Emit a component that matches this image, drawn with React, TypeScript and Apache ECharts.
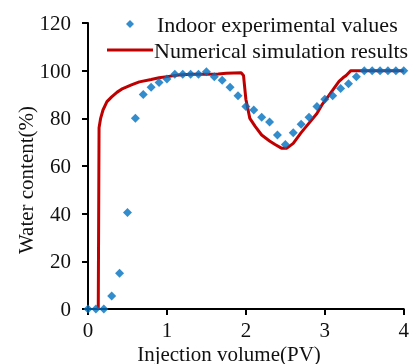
import React, { useEffect, useRef } from "react";
import * as echarts from "echarts";

const expX = [0, 0.1, 0.2, 0.3, 0.4, 0.5, 0.6, 0.7, 0.8, 0.9, 1.0, 1.1, 1.2, 1.3, 1.4, 1.5, 1.6, 1.7, 1.8, 1.9, 2.0, 2.1, 2.2, 2.3, 2.4, 2.5, 2.6, 2.7, 2.8, 2.9, 3.0, 3.1, 3.2, 3.3, 3.4, 3.5, 3.6, 3.7, 3.8, 3.9, 4.0];
const expY = [0, 0, 0, 5.5, 15, 40.5, 80, 90, 93, 95, 96.5, 98.5, 98.5, 98.5, 98.5, 99.5, 97.5, 96, 93, 89.5, 85, 83.5, 80.5, 78.5, 73, 69, 74, 77.5, 80.5, 85, 88, 89.5, 92.5, 94.5, 97.5, 100, 100, 100, 100, 100, 100];

const simX = [0.13, 0.14, 0.16, 0.19, 0.24, 0.3, 0.37, 0.44, 0.55, 0.65, 0.8, 0.9, 1.0, 1.15, 1.3, 1.5, 1.65, 1.75, 1.94, 1.97, 2.0, 2.05, 2.12, 2.2, 2.3, 2.37, 2.45, 2.52, 2.6, 2.7, 2.8, 2.9, 2.97, 3.05, 3.1, 3.18, 3.23, 3.27, 3.33, 4.0];
const simY = [0, 76, 80, 83.5, 87, 89, 91, 92.5, 94, 95.3, 96.3, 97, 97.5, 98.2, 98.5, 98.5, 98.6, 98.9, 99.1, 98, 88, 80, 76.5, 73, 70.5, 69, 67.5, 67.5, 69.5, 74, 78, 82, 86, 89.5, 91.8, 95.5, 97, 98, 100, 100];

const xTicks = [0, 1, 2, 3, 4];
const yTicks = [0, 20, 40, 60, 80, 100, 120];

const expName = "Indoor experimental values";
const simName = "Numerical simulation results";
const xName = "Injection volume(PV)";
const yName = "Water content(%)";

const FONT = "'Liberation Serif', 'Times New Roman', serif";

export default function App() {
  const ref = useRef<HTMLDivElement>(null);
  useEffect(() => {
    if (!ref.current) return;
    const chart = echarts.init(ref.current, undefined, { renderer: "svg" });
    const axisCommon = {
      type: "value" as const,
      axisLine: { show: true, lineStyle: { color: "#000", width: 2 } },
      axisTick: { show: true, inside: false, length: 6, lineStyle: { color: "#000", width: 2 } },
      splitLine: { show: false },
    };
    chart.setOption({
      animation: false,
      textStyle: { fontFamily: FONT },
      grid: { left: 88, right: 3, top: 23, bottom: 55 },
      legend: [
        {
          data: [expName],
          left: 126,
          top: 13,
          padding: 0,
          itemWidth: 8,
          itemHeight: 8,
          itemGap: 0,
          textStyle: { fontFamily: FONT, fontSize: 22, color: "#111", padding: [0, 0, 0, 18] },
        },
        {
          data: [{ name: simName, icon: "rect" }],
          left: 107,
          top: 39,
          padding: 0,
          itemWidth: 46,
          itemHeight: 3,
          itemGap: 0,
          textStyle: { fontFamily: FONT, fontSize: 22, color: "#111", padding: [0, 0, 0, -4] },
        },
      ],
      xAxis: {
        ...axisCommon,
        min: xTicks[0],
        max: xTicks[xTicks.length - 1],
        interval: 1,
        axisLabel: { fontFamily: FONT, fontSize: 21, color: "#111", margin: 10 },
      },
      yAxis: {
        ...axisCommon,
        min: yTicks[0],
        max: yTicks[yTicks.length - 1],
        interval: 20,
        axisLabel: { fontFamily: FONT, fontSize: 21, color: "#111", margin: 17 },
      },
      graphic: [
        {
          type: "text",
          x: 229,
          y: 353.5,
          style: { text: xName, font: `21px ${FONT}`, fill: "#111", textAlign: "center", textVerticalAlign: "middle" },
        },
        {
          type: "text",
          x: 26,
          y: 180,
          rotation: Math.PI / 2,
          style: { text: yName, font: `21px ${FONT}`, fill: "#111", textAlign: "center", textVerticalAlign: "middle" },
        },
      ],
      series: [
        {
          name: simName,
          type: "line",
          data: simX.map((x, i) => [x, simY[i]]),
          showSymbol: false,
          symbol: "none",
          lineStyle: { color: "#C00000", width: 3 },
          itemStyle: { color: "#C00000" },
          z: 2,
        },
        {
          name: expName,
          type: "scatter",
          data: expX.map((x, i) => [x, expY[i]]),
          symbol: "diamond",
          symbolSize: 9,
          itemStyle: { color: "#0070C0" },
          z: 3,
        },
      ],
    });
    return () => chart.dispose();
  }, []);
  return <div ref={ref} style={{ position: "fixed", left: 0, top: 0, width: 412, height: 364 }} />;
}
